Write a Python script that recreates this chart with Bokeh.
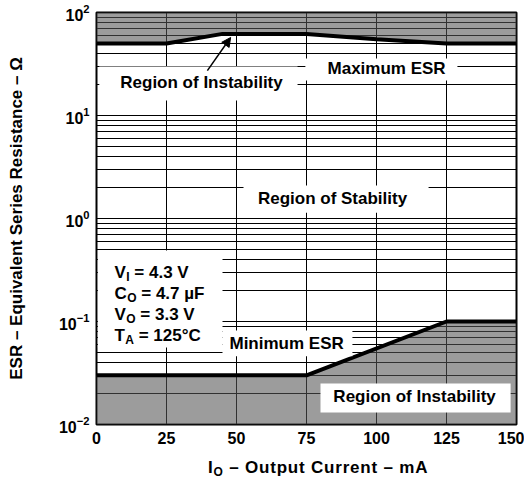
import math
from bokeh.plotting import figure
from bokeh.layouts import column
from bokeh.models import Label, BoxAnnotation, Arrow, NormalHead, FixedTicker, Div
from bokeh.embed import file_html
from bokeh.resources import INLINE

# ---- data ----
current_max = [0, 25, 45, 75, 100, 125, 150]          # mA
esr_max = [50, 50, 62, 62, 55, 50, 50]                # ohm (maximum ESR)
current_min = [0, 75, 125, 150]                       # mA
esr_min = [0.03, 0.03, 0.1, 0.1]                      # ohm (minimum ESR)
x_ticks = [0, 25, 50, 75, 100, 125, 150]
y_ticks = [0.01, 0.1, 1, 10, 100]
y_lo, y_hi = 0.01, 100

cond_main = ["V", "C", "V", "T"]
cond_sub = ["I", "O", "O", "A"]
cond_rest = ["= 4.3 V", "= 4.7 \u00b5F", "= 3.3 V", "= 125\u00b0C"]

FONT = "Liberation Sans"
# approximate Liberation Sans Bold advance widths (em)
W = {"V": 0.667, "C": 0.722, "T": 0.611, "I": 0.278, "O": 0.778, "A": 0.722, " ": 0.278}
FS, SUB = 17, 12

fig = figure(frame_width=420, frame_height=412, x_range=(0, 150), y_range=(y_lo, y_hi),
             y_axis_type="log", output_backend="svg", toolbar_location=None,
             min_border_left=96, min_border_right=8, min_border_top=12, min_border_bottom=25)
fig.background_fill_color = "white"
fig.outline_line_color = "black"
fig.outline_line_width = 2

minor = [m * 10.0 ** e for e in range(-2, 2) for m in range(2, 10)]
yt = FixedTicker(ticks=y_ticks, minor_ticks=minor)
xt = FixedTicker(ticks=x_ticks)
fig.yaxis.ticker = yt
fig.xaxis.ticker = xt
fig.ygrid.ticker = yt
fig.xgrid.ticker = xt

for g in (fig.xgrid, fig.ygrid):
    g.grid_line_color = "black"
    g.grid_line_width = 1
    g.grid_line_alpha = 1
fig.ygrid.minor_grid_line_color = "black"
fig.ygrid.minor_grid_line_width = 1

for ax in (fig.xaxis, fig.yaxis):
    ax.axis_line_color = None
    ax.major_tick_out = 0
    ax.major_tick_in = 0
    ax.minor_tick_out = 0
    ax.minor_tick_in = 0
    ax.major_label_text_font = FONT
    ax.major_label_text_font_style = "bold"
    ax.major_label_text_font_size = "16px"
    ax.major_label_text_color = "black"
    ax.major_label_standoff = 7

fig.yaxis.axis_label = "ESR \u2013 Equivalent Series Resistance \u2013 \u03a9"
fig.yaxis.axis_label_text_font = FONT
fig.yaxis.axis_label_text_font_style = "bold"
fig.yaxis.axis_label_text_font_size = "17px"
fig.yaxis.axis_label_text_color = "black"
fig.yaxis.axis_label_standoff = 30

# shaded regions of instability
fig.varea(x=current_max, y1=esr_max, y2=[y_hi] * len(current_max),
          fill_color="#555555", fill_alpha=0.58)
fig.varea(x=current_min, y1=[y_lo] * len(current_min), y2=esr_min,
          fill_color="#555555", fill_alpha=0.58)
fig.line(current_max, esr_max, line_color="black", line_width=4)
fig.line(current_min, esr_min, line_color="black", line_width=4)

# white boxes behind texts
boxes = [
    (1, 71.8, 14.0, 29.9),
    (74.6, 128.9, 21.9, 35.8),
    (52.5, 118.6, 1.14, 2.09),
    (0.5, 45, 0.056, 0.49),
    (45, 91.4, 0.046, 0.0818),
    (80, 147.9, 0.0131, 0.025),
]
for l, r, b, t in boxes:
    fig.add_layout(BoxAnnotation(left=l, right=r, bottom=b, top=t, fill_color="white",
                                 fill_alpha=1, line_color=None))

fig.add_layout(Arrow(end=NormalHead(size=9, fill_color="black", line_color="black"),
                     x_start=39.6, y_start=27.3, x_end=47.9, y_end=57.2,
                     line_color="black", line_width=1.5))


def lab(x, y, text, **kw):
    opts = dict(text_font=FONT, text_font_style="bold", text_font_size=f"{FS}px",
                text_color="black", text_align="center", text_baseline="middle")
    opts.update(kw)
    fig.add_layout(Label(x=x, y=y, text=text, **opts))


lab(37.5, 20.9, "Region of Instability")
lab(103.6, 28.6, "Maximum ESR")
lab(84.3, 1.56, "Region of Stability")
lab(67.9, 0.0611, "Minimum ESR")
lab(113.6, 0.0187, "Region of Instability")

# conditions block
for i, (m, s, r) in enumerate(zip(cond_main, cond_sub, cond_rest)):
    dy = -21 * i
    mw = W[m] * FS + 0.5
    sw = W[s] * SUB + W[" "] * FS
    lab(6.4, 0.299, m, text_align="left", text_baseline="alphabetic", y_offset=dy)
    lab(6.4, 0.299, s, text_align="left", text_baseline="alphabetic", y_offset=dy - 4,
        text_font_size=f"{SUB}px", x_offset=mw)
    lab(6.4, 0.299, r, text_align="left", text_baseline="alphabetic", y_offset=dy,
        x_offset=mw + sw)

# x-axis title with subscript (HTML)
xtitle = Div(
    text=('<div style="font-family:\'Liberation Sans\'; font-weight:bold; font-size:17px; '
          'line-height:20px; letter-spacing:0.8px; white-space:nowrap; margin:4px 0 0 203px; '
          'color:black">I<span style="font-size:12px; position:relative; top:3px">O</span>'
          ' \u2013 Output Current \u2013 mA</div>'),
    width=520, height=32)

p = column(fig, xtitle, spacing=0)

open("out.html", "w").write(file_html(p, INLINE))
